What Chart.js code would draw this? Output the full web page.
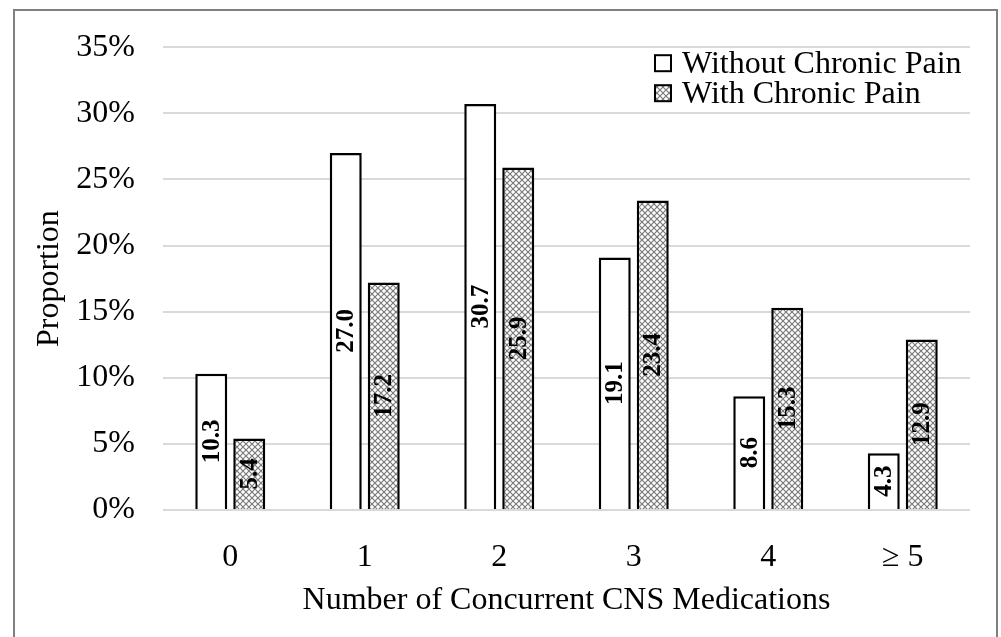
<!DOCTYPE html>
<html>
<head>
<meta charset="utf-8">
<script src="https://cdn.jsdelivr.net/npm/chart.js@4.4.1/dist/chart.umd.min.js"></script>
<style>
  body { margin: 0; background: #fff; }
  canvas { display: block; }
</style>
</head>
<body>
<canvas id="myChart" width="1001" height="637"></canvas>
<script>
const categories = ['0', '1', '2', '3', '4', '\u2265 5'];
const withoutPain = [10.3, 27.0, 30.7, 19.1, 8.6, 4.3];
const withPain = [5.4, 17.2, 25.9, 23.4, 15.3, 12.9];
const seriesNames = ['Without Chronic Pain', 'With Chronic Pain'];
const yTicks = [0, 5, 10, 15, 20, 25, 30, 35];

const serif = '"Liberation Serif", "Times New Roman", serif';

// small cross hatch like the excel fill
function makeHatch() {
    const c = document.createElement('canvas');
    c.width = 6;
    c.height = 6;
    const g = c.getContext('2d');
    g.fillStyle = '#ffffff';
    g.fillRect(0, 0, 6, 6);
    g.strokeStyle = '#7a7a7a';
    g.lineWidth = 1.2;
    g.beginPath();
    g.moveTo(0, 0); g.lineTo(6, 6);
    g.moveTo(6, 0); g.lineTo(0, 6);
    g.stroke();
    return g.createPattern(c, 'repeat');
}
const hatch = makeHatch();

const framePlugin = {
    id: 'frame',
    beforeDraw(chart) {
        const ctx = chart.ctx;
        ctx.save();
        ctx.fillStyle = '#fff';
        ctx.fillRect(0, 0, chart.width, chart.height);
        ctx.strokeStyle = '#808080';
        ctx.lineWidth = 2;
        ctx.strokeRect(14, 10, 983, 640);
        ctx.restore();
    }
};

const barLabels = {
    id: 'barLabels',
    afterDatasetsDraw(chart) {
        const ctx = chart.ctx;
        ctx.save();
        ctx.font = 'bold 25px ' + serif;
        ctx.fillStyle = '#000';
        ctx.textAlign = 'center';
        ctx.textBaseline = 'middle';
        chart.data.datasets.forEach((ds, i) => {
            chart.getDatasetMeta(i).data.forEach((bar, j) => {
                const cy = (bar.y + bar.base) / 2;
                ctx.save();
                ctx.translate(bar.x, cy);
                ctx.rotate(-Math.PI / 2);
                ctx.fillText(ds.data[j].toFixed(1), 0, 1);
                ctx.restore();
            });
        });
        ctx.restore();
    }
};

const innerLegend = {
    id: 'innerLegend',
    afterDraw(chart) {
        const ctx = chart.ctx;
        const area = chart.chartArea;
        const left = area.right - 315;
        ctx.save();
        ctx.font = '32px ' + serif;
        ctx.textBaseline = 'middle';
        chart.data.datasets.forEach((ds, i) => {
            const cy = area.top + 16 + i * 30;
            ctx.fillStyle = ds.backgroundColor;
            ctx.fillRect(left, cy - 8, 16, 16);
            ctx.strokeStyle = '#000';
            ctx.lineWidth = 2;
            ctx.strokeRect(left, cy - 8, 16, 16);
            ctx.fillStyle = '#000';
            ctx.fillText(ds.label, left + 27, cy + 1);
        });
        ctx.restore();
    }
};

const ctx = document.getElementById('myChart').getContext('2d');
const myChart = new Chart(ctx, {
    type: 'bar',
    data: {
        labels: categories,
        datasets: [{
            label: seriesNames[0],
            data: withoutPain,
            backgroundColor: '#ffffff',
            borderColor: '#000000',
            borderWidth: 2.5
        }, {
            label: seriesNames[1],
            data: withPain,
            backgroundColor: hatch,
            borderColor: '#000000',
            borderWidth: 2.5
        }]
    },
    options: {
        responsive: false,
        animation: false,
        devicePixelRatio: 1,
        categoryPercentage: 0.565,
        barPercentage: 0.842,
        layout: { padding: { left: 14, right: 31, top: 0, bottom: 0 } },
        plugins: {
            legend: { display: false },
            tooltip: { enabled: false }
        },
        scales: {
            x: {
                grid: { display: false },
                border: { display: false },
                ticks: { color: '#000', font: { family: serif, size: 32 }, padding: 20 },
                title: {
                    display: true,
                    text: 'Number of Concurrent CNS Medications',
                    color: '#000',
                    font: { family: serif, size: 32 },
                    padding: { top: 0, bottom: 17 }
                },
                afterFit(scale) { scale.height = 127; }
            },
            y: {
                min: 0,
                max: 35,
                afterBuildTicks(scale) { scale.ticks = yTicks.map(v => ({ value: v })); },
                grid: { color: '#d9d9d9', lineWidth: 2, drawTicks: false },
                border: { display: false },
                ticks: {
                    color: '#000',
                    font: { family: serif, size: 32 },
                    padding: 28,
                    callback: v => v + '%'
                },
                title: {
                    display: true,
                    text: 'Proportion',
                    color: '#000',
                    font: { family: serif, size: 32 },
                    padding: { top: 16, bottom: 0 }
                },
                afterFit(scale) { scale.width = 149; }
            }
        }
    },
    plugins: [framePlugin, barLabels, innerLegend]
});
</script>
</body>
</html>
